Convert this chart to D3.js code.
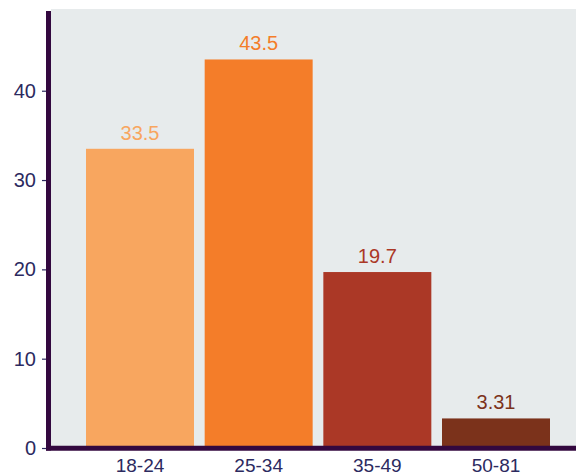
<!DOCTYPE html>
<html><head><meta charset="utf-8">
<script src="https://cdn.jsdelivr.net/npm/d3@7"></script>
<style>html,body{margin:0;padding:0;background:#fff}svg{display:block}</style>
</head><body>
<script>
const categories = ["18-24", "25-34", "35-49", "50-81"];
const values = [33.5, 43.5, 19.7, 3.31];
const valueLabels = ["33.5", "43.5", "19.7", "3.31"];
const colors = ["#f8a65f", "#f47d29", "#ab3826", "#7b321b"];
const yTicks = [0, 10, 20, 30, 40];

const W = 576, H = 476;
const svg = d3.select("body").append("svg").attr("width", W).attr("height", H);

const x = d3.scaleBand().domain(categories).range([51, 585]).paddingInner(0.09).paddingOuter(0.295);
const y = d3.scaleLinear().domain([0, 49.15]).range([448, 9]);

svg.append("rect").attr("x", 51).attr("y", 9).attr("width", W - 51).attr("height", 448 - 9).attr("fill", "#e7ebec");

svg.selectAll("rect.bar").data(values).join("rect").attr("class", "bar")
  .attr("x", (d, i) => x(categories[i]))
  .attr("y", d => y(d))
  .attr("width", x.bandwidth())
  .attr("height", d => y(0) - y(d))
  .attr("fill", (d, i) => colors[i]);

svg.selectAll("text.val").data(values).join("text").attr("class", "val")
  .attr("x", (d, i) => x(categories[i]) + x.bandwidth() / 2)
  .attr("y", d => y(d) - 9)
  .attr("text-anchor", "middle")
  .attr("font-family", "Liberation Sans, Arial, sans-serif")
  .attr("font-size", 20)
  .attr("fill", (d, i) => colors[i])
  .text((d, i) => valueLabels[i]);

const yAxis = svg.append("g").attr("transform", "translate(46,0)")
  .call(d3.axisLeft(y).tickValues(yTicks).tickSize(4).tickPadding(6).tickFormat(d3.format("d")));
yAxis.select(".domain").remove();
yAxis.selectAll("line").attr("stroke", "#2c2a5f").attr("stroke-width", 1.2);
yAxis.selectAll("text").attr("font-family", "Liberation Sans, Arial, sans-serif").attr("font-size", 20).attr("fill", "#2c2a5f");

const xAxis = svg.append("g").attr("transform", "translate(0,448)")
  .call(d3.axisBottom(x).tickSize(0).tickPadding(10.5));
xAxis.select(".domain").remove();
xAxis.selectAll("text").attr("font-family", "Liberation Sans, Arial, sans-serif").attr("font-size", 19).attr("fill", "#2c2a5f");

// axis lines
svg.append("line").attr("x1", 48.5).attr("x2", 48.5).attr("y1", 11).attr("y2", 450.5)
  .attr("stroke", "#33083f").attr("stroke-width", 5);
svg.append("line").attr("x1", 46).attr("x2", W).attr("y1", 448.2).attr("y2", 448.2)
  .attr("stroke", "#33083f").attr("stroke-width", 5);
</script>
</body></html>
